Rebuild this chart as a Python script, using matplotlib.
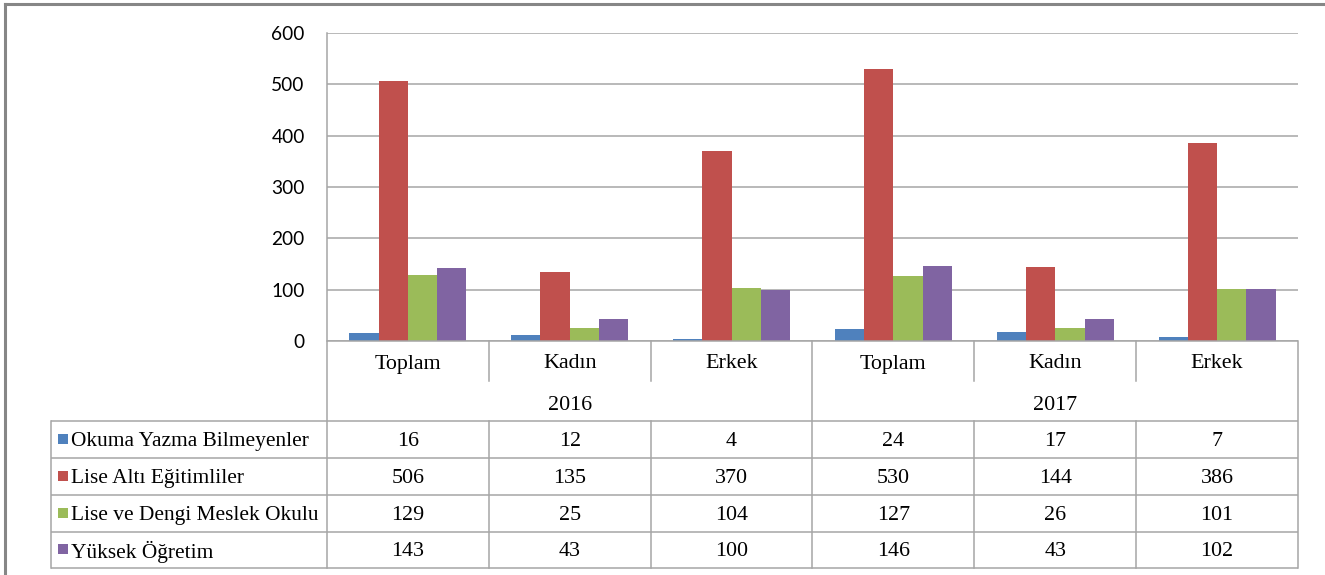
import matplotlib
matplotlib.use("Agg")
import matplotlib.pyplot as plt
from matplotlib import transforms
from matplotlib.patches import Rectangle

# ---- data ----
categories = ["Toplam", "Kadın", "Erkek", "Toplam", "Kadın", "Erkek"]
years = ["2016", "2017"]
series_names = ["Okuma Yazma Bilmeyenler", "Lise Altı Eğitimliler",
                "Lise ve Dengi Meslek Okulu", "Yüksek Öğretim"]
okuma = [16, 12, 4, 24, 17, 7]
lise_alti = [506, 135, 370, 530, 144, 386]
lise_dengi = [129, 25, 104, 127, 26, 101]
yuksek = [143, 43, 100, 146, 43, 102]
y_ticks = [0, 100, 200, 300, 400, 500, 600]

series_values = [okuma, lise_alti, lise_dengi, yuksek]
colors = ["#4F81BD", "#C0504D", "#9BBB59", "#8064A2"]

W, H = 1325, 575
fig = plt.figure(figsize=(W / 100, H / 100), dpi=100)
fig.patch.set_facecolor("white")

# plot area in pixels
L, R, T, B = 327, 1298, 33, 341
ax = fig.add_axes([L / W, (H - B) / H, (R - L) / W, (B - T) / H])

n = len(categories)
bw = 29.3 / 162.0
for i, (vals, c) in enumerate(zip(series_values, colors)):
    xs = [g + (i - 1.5) * bw for g in range(n)]
    ax.bar(xs, vals, width=bw, color=c, edgecolor="none", zorder=3)

ax.set_xlim(-0.5, n - 0.5)
ax.set_ylim(0, 600)
ax.set_yticks(y_ticks)
ax.set_yticklabels([str(v) for v in y_ticks], family="Lato", fontsize=13.8)
ax.tick_params(axis="y", length=0, pad=16, colors="black")
ax.set_xticks([])
ax.grid(axis="y", color="#a6a6a6", lw=1.1, zorder=0)
for s in ["top", "right", "bottom"]:
    ax.spines[s].set_visible(False)
ax.spines["left"].set_color("#a6a6a6")
ax.spines["left"].set_linewidth(1.1)

lc = "#a6a6a6"
lw = 1.1
serif = "Liberation Serif"
fs = 15.8
fs_leg = 15.4

ax_table = fig.add_axes([0, 0, 1, 1], zorder=5)
ax_table.set_xlim(0, W)
ax_table.set_ylim(H, 0)
ax_table.axis("off")
# blended transform: x in data units of ax, y in pixel coords
bt = transforms.blended_transform_factory(ax.transData, ax_table.transData)

row_top = [421, 458, 495, 532]
row_bot = 568
hdr1_bot = 381
tab_left = 51
dy = 2  # text vertical nudge

def hline(y, x0, x1):
    ax_table.plot([x0, x1], [y, y], color=lc, lw=lw, solid_capstyle="butt")

# x-axis line at 0
hline(B, L, R)
# horizontal table lines
for y in row_top + [row_bot]:
    hline(y, tab_left, R)
# outer vertical lines
ax_table.plot([L, L], [B, row_bot], color=lc, lw=lw)
ax_table.plot([R, R], [B, row_bot], color=lc, lw=lw)
ax_table.plot([tab_left, tab_left], [row_top[0], row_bot], color=lc, lw=lw)
# inner vertical lines
for k in range(1, n):
    xk = k - 0.5
    if k == 3:
        ax_table.plot([xk, xk], [B, row_bot], color=lc, lw=lw, transform=bt)
    else:
        ax_table.plot([xk, xk], [B, hdr1_bot], color=lc, lw=lw, transform=bt)
        ax_table.plot([xk, xk], [row_top[0], row_bot], color=lc, lw=lw, transform=bt)

# category labels
for g, cat in enumerate(categories):
    ax_table.text(g, 362 + dy, cat, transform=bt, ha="center", va="center",
                  family=serif, fontsize=fs)
# year labels
for yi, yr in enumerate(years):
    ax_table.text(1 + 3 * yi, 404 + dy, yr, transform=bt, ha="center", va="center",
                  family=serif, fontsize=fs)

# data rows
for r, (name, vals, c) in enumerate(zip(series_names, series_values, colors)):
    yc = (row_top[r] + (row_top[r + 1] if r + 1 < len(row_top) else row_bot)) / 2
    ax_table.add_patch(Rectangle((58, yc - 6), 10, 10, color=c, lw=0))
    ax_table.text(71, yc + dy, name, ha="left", va="center", family=serif, fontsize=fs_leg)
    for g, v in enumerate(vals):
        ax_table.text(g, yc + dy, str(v), transform=bt, ha="center", va="center",
                      family=serif, fontsize=fs)

# outer chart border (top and left visible)
ax_table.plot([5, W + 5], [4, 4], color="#868686", lw=2.2)
ax_table.plot([5, 5], [4, H + 5], color="#868686", lw=2.2)

fig.savefig("out.png", dpi=100, facecolor="white")
